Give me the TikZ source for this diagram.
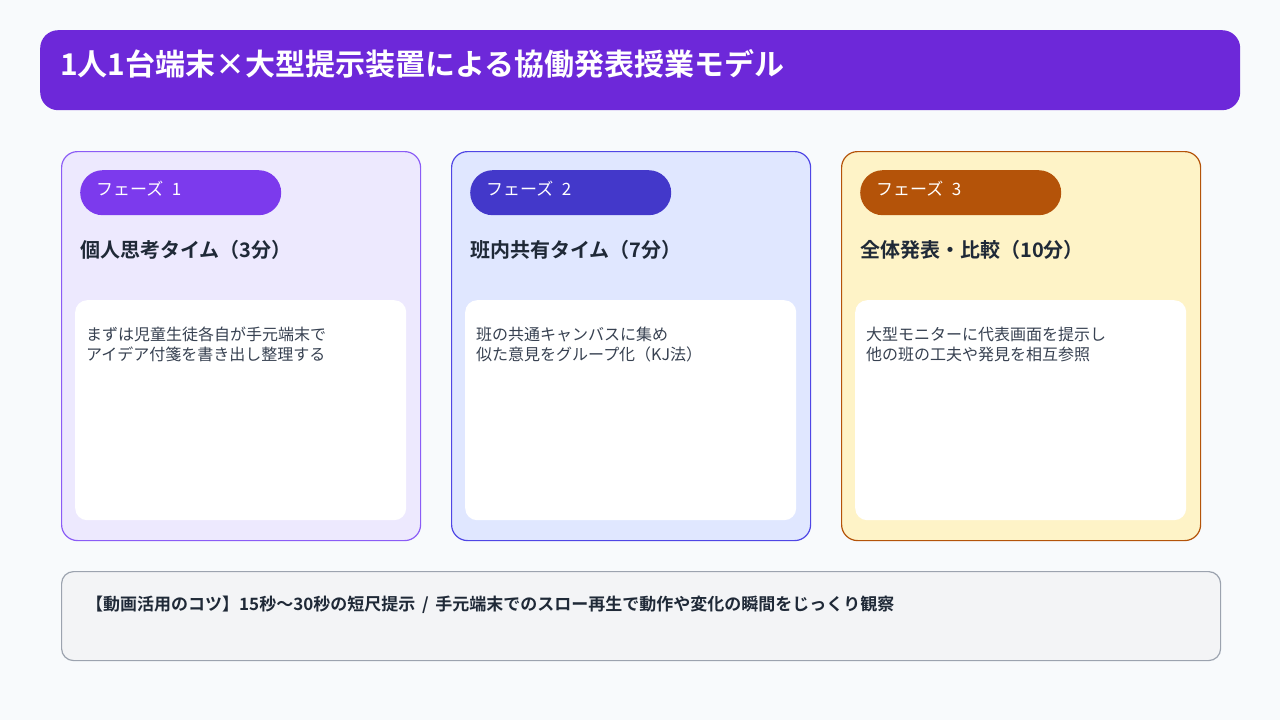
\documentclass[tikz,border=0pt]{standalone}
\usepackage{fontspec}
\setmainfont{Noto Sans CJK JP}[BoldFont={Noto Sans CJK JP Bold}]
\usetikzlibrary{positioning}
\definecolor{mbg}{HTML}{F8FAFC}
\definecolor{mtitle}{HTML}{6D28D9}
\definecolor{mink}{HTML}{1F2937}
\definecolor{mbody}{HTML}{374151}
\definecolor{mpurple}{HTML}{7C3AED}
\definecolor{mpurpleline}{HTML}{8B5CF6}
\definecolor{mpurplebg}{HTML}{EDE9FE}
\definecolor{mindigo}{HTML}{4338CA}
\definecolor{mindigoline}{HTML}{4F46E5}
\definecolor{mindigobg}{HTML}{E0E7FF}
\definecolor{mamber}{HTML}{B45309}
\definecolor{mamberbg}{HTML}{FEF3C7}
\definecolor{mtipbg}{HTML}{F3F4F6}
\definecolor{mtipline}{HTML}{9CA3AF}
\tikzset{card/.style = {draw, line width=1.2pt, rounded corners=16pt, anchor=north west,
                        minimum width=359pt, minimum height=389pt}}
\tikzset{pill/.style = {rounded corners=22.5pt, anchor=north west,
                        minimum width=201pt, minimum height=45pt}}
\tikzset{note/.style = {fill=white, rounded corners=12pt, anchor=north west,
                        minimum width=331pt, minimum height=220pt}}
\tikzset{pilltext/.style = {white, anchor=west, inner sep=0pt, font=\fontsize{17}{20}\selectfont}}
\tikzset{headtext/.style = {mink, anchor=west, inner sep=0pt, font=\fontsize{20}{24}\selectfont\bfseries}}
\tikzset{bodytext/.style = {mbody, anchor=north west, inner sep=0pt, align=left,
                            font=\fontsize{16}{20}\selectfont}}

\begin{document}
\begin{tikzpicture}[x=1pt, y=-1pt]
    \fill [mbg] (0, 0) rectangle (1280, 720);
    \useasboundingbox (0, 0) rectangle (1280, 720);

    \node [fill=mtitle, rounded corners=18pt, anchor=north west,
           minimum width=1200pt, minimum height=80pt] (banner) at (40, 30) {};
    \node [white, anchor=west, inner sep=0pt, font=\fontsize{30}{36}\selectfont\bfseries]
          (title) at ([xshift=20pt, yshift=6pt]banner.west) {1人1台端末×大型提示装置による協働発表授業モデル};

    \foreach \i/\x/\pc/\dc/\fc/\head/\body in
      {1/61/mpurple/mpurpleline/mpurplebg/{個人思考タイム（3分）}/{まずは児童生徒各自が手元端末で\\アイデア付箋を書き出し整理する},
       2/451/mindigo/mindigoline/mindigobg/{班内共有タイム（7分）}/{班の共通キャンバスに集め\\似た意見をグループ化（KJ法）},
       3/841/mamber/mamber/mamberbg/{全体発表・比較（10分）}/{大型モニターに代表画面を提示し\\他の班の工夫や発見を相互参照}}
    {
      \node [card, draw=\dc, fill=\fc] (card\i) at (\x, 151) {};
      \node [pill, fill=\pc] (pill\i) at ([xshift=19pt, yshift=-19pt]card\i.north west) {};
      \node [pilltext] (phase\i) at ([xshift=16pt, yshift=4pt]pill\i.west) {フェーズ\hspace{0.5em}\i};
      \node [headtext] (head\i) at ([yshift=-57.5pt]pill\i.west) {\head};
      \node [note] (note\i) at ([xshift=14pt, yshift=-149pt]card\i.north west) {};
      \node [bodytext] (text\i) at ([xshift=11pt, yshift=-27pt]note\i.north west) {\body};
    }

    \node [draw=mtipline, fill=mtipbg, line width=1.2pt, rounded corners=12pt, anchor=north west,
           minimum width=1159pt, minimum height=89pt] (tips) at (61, 571) {};
    \node [mink, anchor=west, inner sep=0pt, font=\fontsize{17}{20}\selectfont\bfseries]
          (tipstext) at ([xshift=25pt, yshift=11.5pt]tips.west)
          {【動画活用のコツ】15秒〜30秒の短尺提示\hspace{0.4em}/\hspace{0.4em}手元端末でのスロー再生で動作や変化の瞬間をじっくり観察};
  \end{tikzpicture}
\end{document}
